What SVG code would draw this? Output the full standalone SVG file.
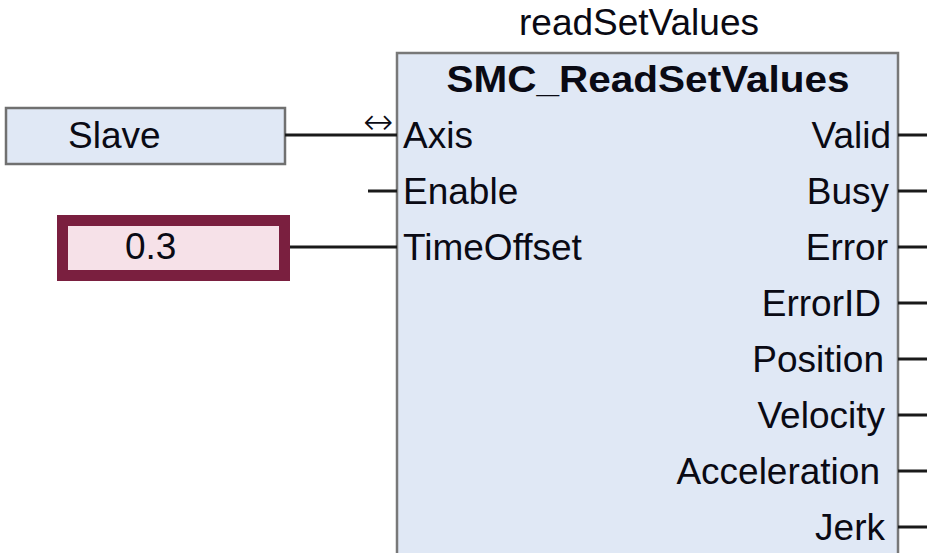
<svg xmlns="http://www.w3.org/2000/svg" width="943" height="553" viewBox="0 0 943 553">
<style>
text{font-family:"Liberation Sans",Arial,sans-serif;font-size:37px;fill:#0a0a14}
.b{font-weight:bold}
.r{text-anchor:end}
.w{stroke:#1a1a1a;stroke-width:3;fill:none}
.arr{font-family:"DejaVu Sans",sans-serif;font-size:36px;font-weight:200}
</style>
<rect width="943" height="553" fill="#ffffff"/>
<g id="block">
<text x="639" y="35" text-anchor="middle">readSetValues</text>
<rect x="397" y="53" width="501" height="520" fill="#e0e8f5" stroke="#787878" stroke-width="2.5"/>
<text class="b" x="648" y="92" text-anchor="middle" textLength="403" lengthAdjust="spacingAndGlyphs">SMC_ReadSetValues</text>
<text x="403" y="148">Axis</text>
<text x="403" y="204">Enable</text>
<text x="403" y="260">TimeOffset</text>
<text class="r" x="891" y="148">Valid</text>
<text class="r" x="889" y="204">Busy</text>
<text class="r" x="888" y="260">Error</text>
<text class="r" x="881" y="316">ErrorID</text>
<text class="r" x="884" y="372">Position</text>
<text class="r" x="885" y="428">Velocity</text>
<text class="r" x="880" y="484">Acceleration</text>
<text class="r" x="885" y="540">Jerk</text>
</g>
<g id="slave">
<rect x="6" y="108" width="279" height="56" fill="#e0e8f5" stroke="#707070" stroke-width="2.5"/>
<text x="68" y="148">Slave</text>
</g>
<g id="timeoffset-value">
<rect x="62.5" y="220.5" width="222" height="55" fill="#f6e1e8" stroke="#7a1f3f" stroke-width="11"/>
<text x="125" y="259">0.3</text>
</g>
<g id="connectors">
<path class="w" d="M285 135H397M368 191H397M290 247H397"/>
<text class="arr" x="378" y="134" text-anchor="middle">↔</text>
<path class="w" d="M898 135H927M898 191H927M898 247H927M898 303H927M898 359H927M898 415H927M898 471H927M898 527H927"/>
</g>
</svg>
